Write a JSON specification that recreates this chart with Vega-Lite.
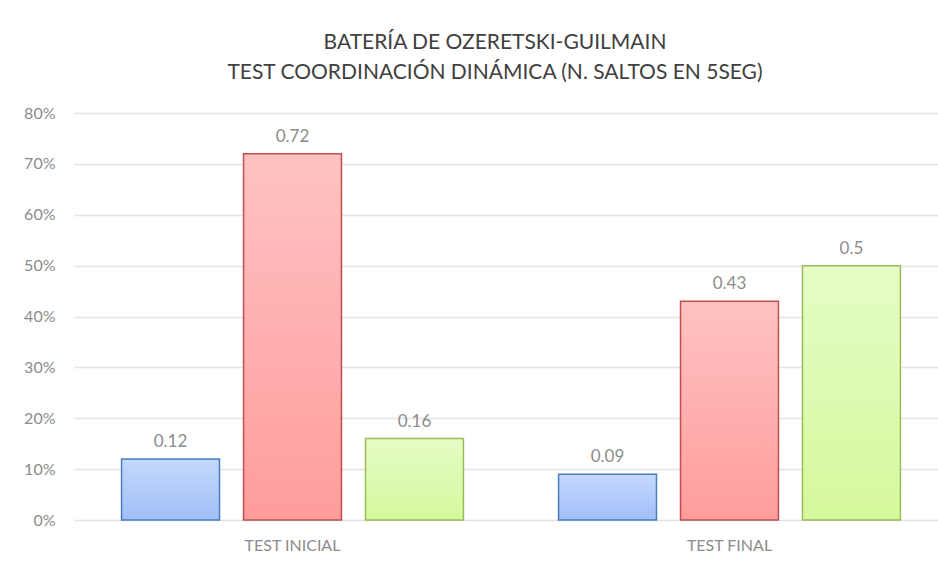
{
  "$schema": "https://vega.github.io/schema/vega-lite/v6.json",
  "autosize": "none",
  "width": 864,
  "height": 407,
  "padding": {"left": 74, "top": 113, "right": 0, "bottom": 47},
  "background": "white",
  "title": {
    "text": ["BATERÍA DE OZERETSKI-GUILMAIN", "TEST COORDINACIÓN DINÁMICA (N. SALTOS EN 5SEG)"],
    "font": "Lato",
    "fontSize": 21,
    "fontWeight": "normal",
    "color": "#404040",
    "lineHeight": 30,
    "anchor": "middle",
    "dx": -11,
    "offset": 22
  },
  "config": {
    "view": {"stroke": null},
    "axis": {"labelFont": "Lato", "labelColor": "#8c8c8c", "labelFontSize": 16, "titleFont": "Lato", "labelOverlap": false}
  },
  "data": {
    "values": [
      {"test": "TEST INICIAL", "serie": "A", "valor": 0.12},
      {"test": "TEST INICIAL", "serie": "B", "valor": 0.72},
      {"test": "TEST INICIAL", "serie": "C", "valor": 0.16},
      {"test": "TEST FINAL", "serie": "A", "valor": 0.09},
      {"test": "TEST FINAL", "serie": "B", "valor": 0.43},
      {"test": "TEST FINAL", "serie": "C", "valor": 0.5}
    ]
  },
  "encoding": {
    "x": {
      "field": "test", "type": "nominal", "sort": ["TEST INICIAL", "TEST FINAL"],
      "scale": {"range": [0, 874], "paddingInner": 0, "paddingOuter": 0},
      "axis": {"title": null, "labelAngle": 0, "ticks": false, "domain": false, "labelPadding": 17}
    },
    "xOffset": {
      "field": "serie", "type": "nominal",
      "scale": {"domain": ["A", "B", "C"], "paddingInner": 0.197, "paddingOuter": 0.39}
    },
    "y": {
      "field": "valor", "type": "quantitative",
      "scale": {"domain": [0, 0.8], "nice": false},
      "axis": {"title": null, "format": ".0%", "values": [0,0.1,0.2,0.3,0.4,0.5,0.6,0.7,0.8], "ticks": false, "domain": false, "labelPadding": 19, "gridColor": "#e3e3e3", "gridWidth": 1.3}
    }
  },
  "layer": [
    {
      "transform": [{"filter": "datum.serie === 'A'"}],
      "mark": {"type": "bar", "strokeWidth": 1.5, "stroke": "#4a7ebb",
        "fill": {"gradient": "linear", "x1": 0, "y1": 0, "x2": 0, "y2": 1,
          "stops": [{"offset": 0, "color": "#c4d8fc"}, {"offset": 1, "color": "#a0bff8"}]}}
    },
    {
      "transform": [{"filter": "datum.serie === 'B'"}],
      "mark": {"type": "bar", "strokeWidth": 1.5, "stroke": "#c0504d",
        "fill": {"gradient": "linear", "x1": 0, "y1": 0, "x2": 0, "y2": 1,
          "stops": [{"offset": 0, "color": "#ffc2c2"}, {"offset": 1, "color": "#ff9c9c"}]}}
    },
    {
      "transform": [{"filter": "datum.serie === 'C'"}],
      "mark": {"type": "bar", "strokeWidth": 1.5, "stroke": "#9bbb59",
        "fill": {"gradient": "linear", "x1": 0, "y1": 0, "x2": 0, "y2": 1,
          "stops": [{"offset": 0, "color": "#e5fcc6"}, {"offset": 1, "color": "#d5f99c"}]}}
    },
    {
      "mark": {"type": "text", "baseline": "bottom", "dy": -8, "font": "Lato", "fontSize": 17, "color": "#8c8c8c"},
      "encoding": {"text": {"field": "valor", "type": "quantitative"}}
    }
  ]
}
